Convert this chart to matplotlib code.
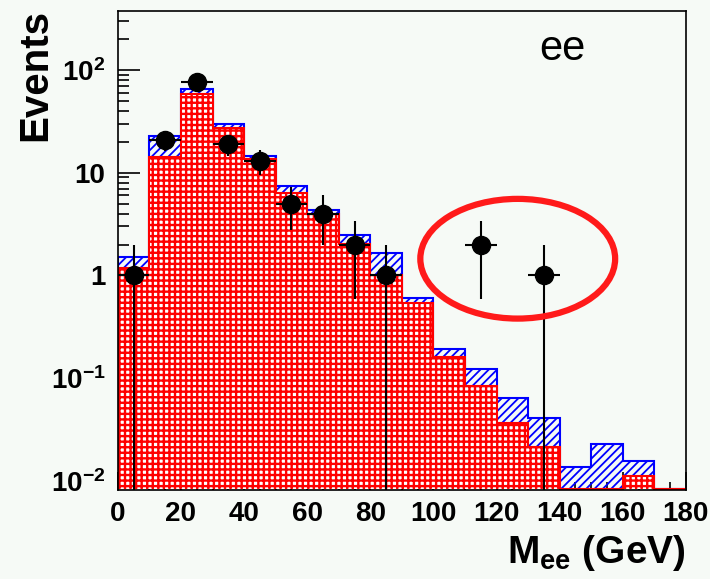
import numpy as np
import matplotlib
matplotlib.use("Agg")
import matplotlib.pyplot as plt
from matplotlib.patches import Ellipse
from matplotlib.ticker import FixedLocator, MultipleLocator, LogLocator, NullFormatter

plt.rcParams['font.family'] = ['Liberation Sans', 'DejaVu Sans']
plt.rcParams['mathtext.fontset'] = 'custom'
plt.rcParams['mathtext.rm'] = 'Liberation Sans:bold'
plt.rcParams['mathtext.bf'] = 'Liberation Sans:bold'
plt.rcParams['mathtext.it'] = 'Liberation Sans:bold'

# bin edges in GeV
edges = np.arange(0, 190, 10)
# total expectation (blue, stacked on top of red)
total_mc = [1.53, 22.5, 65.5, 30.0, 14.4, 7.4, 4.3, 2.49, 1.67, 0.61,
            0.192, 0.122, 0.064, 0.041, 0.0137, 0.023, 0.0157, 0.0]
# main component (red)
main_mc = [1.17, 14.1, 58.6, 26.9, 13.5, 6.3, 4.0, 2.04, 1.02, 0.54,
           0.161, 0.085, 0.037, 0.0216, 0.0, 0.0, 0.0112, 0.0]
# data
data_x = [5, 15, 25, 35, 45, 55, 65, 75, 85, 115, 135]
data_n = [1, 21, 77, 19, 13, 5, 4, 2, 1, 2, 1]

ytick_vals = [1e-2, 1e-1, 1, 10, 100]
ytick_labels = ['$10^{-2}$', '$10^{-1}$', '1', '10', '$10^{2}$']
xtick_vals = [0, 20, 40, 60, 80, 100, 120, 140, 160, 180]

bg = '#f6faf6'
ymin, ymax = 0.0082, 372

fig = plt.figure(figsize=(7.1, 5.79), dpi=100, facecolor=bg)
ax = fig.add_axes([0.166, 0.1537, 0.800, 0.827])
ax.set_facecolor(bg)
ax.set_yscale('log')

floor = ymin * 1.03
plt.rcParams['hatch.linewidth'] = 1.3
ax.stairs(np.clip(total_mc, floor, None), edges, baseline=floor, fill=True,
          facecolor='none', edgecolor='#0000ff', hatch='////', linewidth=1.5, zorder=2)
plt.rcParams['hatch.linewidth'] = 1.7
ax.stairs(np.clip(main_mc, floor, None), edges, baseline=floor, fill=True,
          facecolor='white', edgecolor='#ff0000', hatch='+++', linewidth=1.5, zorder=3)

n = np.array(data_n, dtype=float)
err = np.sqrt(n)
ax.errorbar(data_x, n, yerr=err, xerr=5, fmt='o', color='black', ms=13,
            elinewidth=1.5, capsize=0, zorder=5)

ax.add_patch(Ellipse((0.704, 0.483), 0.343, 0.25, transform=ax.transAxes,
                     fill=False, edgecolor='#ff1a1a', linewidth=4.5, zorder=6))

ax.text(0.783, 0.898, 'ee', transform=ax.transAxes, fontsize=30,
        ha='center', va='baseline')

ax.set_xlim(0, 180)
ax.set_ylim(ymin, ymax)
ax.xaxis.set_major_locator(FixedLocator(xtick_vals))
ax.xaxis.set_minor_locator(MultipleLocator(5))
ax.yaxis.set_major_locator(FixedLocator(ytick_vals))
ax.set_yticklabels(ytick_labels)
ax.yaxis.set_minor_locator(LogLocator(base=10, subs=np.arange(2, 10)))
ax.yaxis.set_minor_formatter(NullFormatter())

ax.tick_params(axis='both', which='both', direction='in', top=False, right=False,
               width=1.2, labelsize=20)
ax.tick_params(axis='x', which='major', length=13, pad=8)
ax.tick_params(axis='x', which='minor', length=6)
ax.tick_params(axis='y', which='major', length=16, pad=9)
ax.tick_params(axis='y', which='minor', length=8)
for lab in ax.get_xticklabels() + ax.get_yticklabels():
    lab.set_fontweight('bold')
for sp in ax.spines.values():
    sp.set_linewidth(1.2)
    sp.set_zorder(7)

fig.text(0.049, 1 - 75 / 579, 'Events', rotation=90, fontsize=29,
         fontweight='bold', ha='center', va='center')
fig.text(0.966, 0.028, r'$\mathbf{M}_{\mathbf{ee}}$ (GeV)', fontsize=28,
         fontweight='bold', ha='right', va='baseline')

fig.savefig('out.png', dpi=100, facecolor=bg)
